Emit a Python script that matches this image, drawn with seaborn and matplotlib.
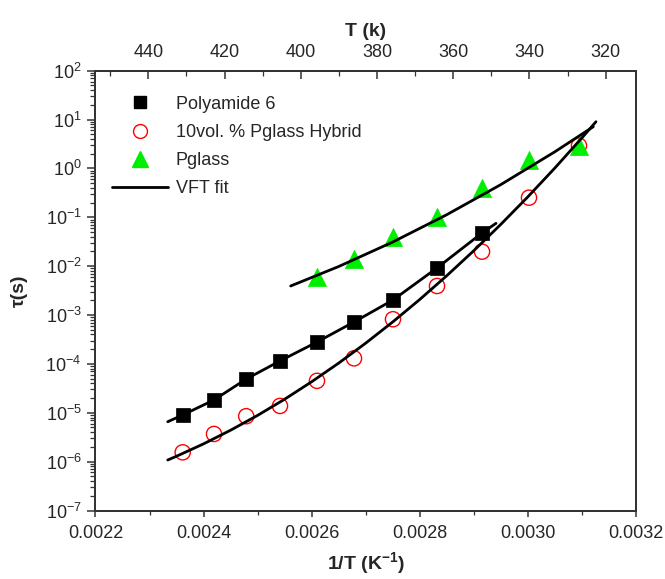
import numpy as np
import pandas as pd
import matplotlib
matplotlib.use("Agg")
import matplotlib.pyplot as plt
import seaborn as sns
from matplotlib.ticker import MultipleLocator, FormatStrFormatter, LogLocator
from matplotlib.lines import Line2D

# ---------------- data ----------------
pa6_x = [0.0023614, 0.0024194, 0.0024790, 0.0025415, 0.0026100,
         0.0026785, 0.0027507, 0.0028322, 0.0029155]
pa6_tau = [9.0e-6, 1.83e-5, 4.9e-5, 1.15e-4, 2.8e-4, 7.2e-4, 2.03e-3, 9.2e-3, 0.0477]

hyb_x = [0.0023614, 0.0024194, 0.0024790, 0.0025415, 0.0026100, 0.0026785,
         0.0027507, 0.0028322, 0.0029155, 0.0030025, 0.0030950]
hyb_tau = [1.55e-6, 3.68e-6, 8.5e-6, 1.38e-5, 4.5e-5, 1.30e-4,
           8.2e-4, 3.93e-3, 0.0198, 0.252, 2.92]

pg_x = [0.0026100, 0.0026785, 0.0027507, 0.0028322, 0.0029155, 0.0030025, 0.0030950]
pg_tau = [6.1e-3, 0.014, 0.0401, 0.103, 0.404, 1.49, 2.88]

# VFT fit curves
fit_pa6_x = [0.0023337, 0.0023614, 0.0024194, 0.0024790, 0.0025415, 0.0026100,
             0.0026785, 0.0027507, 0.0028322, 0.0029155, 0.0029414]
fit_pa6_tau = [6.55e-6, 9.0e-6, 1.83e-5, 4.9e-5, 1.15e-4, 2.8e-4,
               7.2e-4, 2.03e-3, 9.2e-3, 0.0477, 0.0753]

fit_hyb_x = [0.0023337, 0.00235, 0.0024, 0.00245, 0.0025, 0.00255, 0.0026,
             0.00265, 0.0027, 0.00275, 0.0028, 0.00285, 0.0029, 0.00295,
             0.0030, 0.00305, 0.0031, 0.0031265]
fit_hyb_tau = [1.08e-6, 1.29e-6, 2.31e-6, 4.39e-6, 8.83e-6, 1.89e-5, 4.30e-5,
               1.035e-4, 2.65e-4, 7.19e-4, 2.07e-3, 6.34e-3, 2.06e-2, 0.0711,
               0.260, 1.01, 4.17, 9.04]

fit_pg_x = [0.0025613, 0.00265, 0.00275, 0.00285, 0.00295, 0.00305, 0.0031215]
fit_pg_tau = [3.93e-3, 9.82e-3, 0.0311, 0.1127, 0.4645, 2.18, 7.14]

top_ticks = [440, 420, 400, 380, 360, 340, 320]
x_ticks = [0.0022, 0.0024, 0.0026, 0.0028, 0.0030, 0.0032]

# ---------------- style ----------------
sns.set_style("ticks")
plt.rcParams["font.family"] = ["Liberation Sans", "DejaVu Sans"]
plt.rcParams["mathtext.fontset"] = "custom"
plt.rcParams["mathtext.rm"] = "Liberation Sans"
plt.rcParams["mathtext.bf"] = "Liberation Sans:bold"
plt.rcParams["mathtext.default"] = "regular"

fig = plt.figure(figsize=(6.65, 5.79), dpi=100)
ax = fig.add_axes([95.5 / 665, 1 - 510.5 / 579, 540.2 / 665, 439.8 / 579])

df_pa6 = pd.DataFrame({"x": pa6_x, "tau": pa6_tau})
df_hyb = pd.DataFrame({"x": hyb_x, "tau": hyb_tau})
df_pg = pd.DataFrame({"x": pg_x, "tau": pg_tau})

sns.scatterplot(data=df_pa6, x="x", y="tau", ax=ax, marker="s", s=110,
                color="black", edgecolor="black", linewidth=0.5, zorder=3)
sns.scatterplot(data=df_hyb, x="x", y="tau", ax=ax, marker="o", s=120,
                facecolor="none", edgecolor="red", linewidth=1.0, zorder=3)
sns.scatterplot(data=df_pg, x="x", y="tau", ax=ax, marker="^", s=170,
                color="#00ee00", edgecolor="#00ee00", linewidth=0.5, zorder=3)

for fx, ft in [(fit_pa6_x, fit_pa6_tau), (fit_hyb_x, fit_hyb_tau), (fit_pg_x, fit_pg_tau)]:
    sns.lineplot(x=fx, y=ft, ax=ax, color="black", linewidth=2.0, sort=False,
                 estimator=None, zorder=4)

ax.set_yscale("log")
ax.set_xlim(0.0022, 0.0032)
ax.set_ylim(1e-7, 1e2)
ax.set_xticks(x_ticks)
ax.xaxis.set_major_formatter(FormatStrFormatter("%.4f"))
ax.xaxis.set_minor_locator(MultipleLocator(0.0001))
ax.yaxis.set_major_locator(LogLocator(base=10, numticks=20))
ax.yaxis.set_minor_locator(LogLocator(base=10, subs=np.arange(2, 10), numticks=20))

for sp in ax.spines.values():
    sp.set_visible(True)
    sp.set_linewidth(1.3)
    sp.set_color("#333333")

ax.tick_params(axis="both", which="major", labelsize=13, direction="out",
               length=6, width=1.1, color="#333333", pad=4)
ax.tick_params(axis="both", which="minor", direction="out", length=3.5,
               width=0.9, color="#333333")
ax.tick_params(axis="x", which="major", length=4.5, pad=6)
ax.tick_params(axis="x", which="minor", length=3)
ax.tick_params(right=False, which="both")

ax.set_xlabel(r"1/T (K$^{\mathbf{-1}}$)", fontsize=14, fontweight="bold", labelpad=6)
ax.set_ylabel("τ(s)", fontsize=14, fontweight="bold", labelpad=13)

# top axis (temperature, linear)
ax2 = ax.twiny()
ax2.set_xlim(453.85, 312.13)
ax2.set_xticks(top_ticks)
ax2.xaxis.set_minor_locator(MultipleLocator(10))
ax2.tick_params(axis="x", which="major", direction="in", length=6, width=1.1,
                labelsize=13, color="#333333", pad=7)
ax2.tick_params(axis="x", which="minor", direction="in", length=3.5, width=0.9,
                color="#333333")
ax2.set_xlabel("T (k)", fontsize=14, fontweight="bold", labelpad=6)
for sp in ax2.spines.values():
    sp.set_linewidth(1.3)
    sp.set_color("#333333")

# legend
handles = [
    Line2D([], [], marker="s", linestyle="none", color="black", markersize=9),
    Line2D([], [], marker="o", linestyle="none", markerfacecolor="none",
           markeredgecolor="red", markersize=10, markeredgewidth=1.0),
    Line2D([], [], marker="^", linestyle="none", color="#00ee00", markersize=12),
    Line2D([], [], color="black", linewidth=2.0),
]
labels = ["Polyamide 6", "10vol. % Pglass Hybrid", "Pglass", "VFT fit"]
ax.legend(handles, labels, loc="upper left", bbox_to_anchor=(0.03, 0.943),
          frameon=False, fontsize=13, handlelength=3.1, handletextpad=0.45,
          labelspacing=0.62, borderpad=0, borderaxespad=0)

fig.savefig("out.png", dpi=100)
